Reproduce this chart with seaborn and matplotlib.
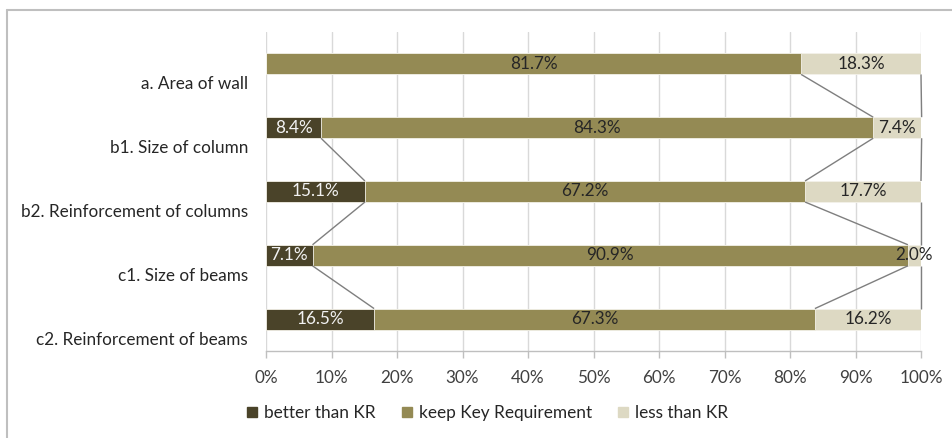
import numpy as np
import pandas as pd
import matplotlib
matplotlib.use("Agg")
import matplotlib.pyplot as plt
import matplotlib.transforms as mtransforms
from matplotlib.lines import Line2D
import seaborn as sns

# Survey results per structural item (percent of responses)
categories = [
    "a. Area of wall",
    "b1. Size of column",
    "b2. Reinforcement of columns",
    "c1. Size of beams",
    "c2. Reinforcement of beams",
]
better_than_kr = [0.0, 8.4, 15.1, 7.1, 16.5]
keep_kr = [81.7, 84.3, 67.2, 90.9, 67.3]
less_than_kr = [18.3, 7.4, 17.7, 2.0, 16.2]
series_names = ["better than KR", "keep Key Requirement", "less than KR"]
x_ticks = [0, 10, 20, 30, 40, 50, 60, 70, 80, 90, 100]

colors = ["#4a4329", "#948a54", "#ddd9c3"]
text_colors = ["#f2f2f2", "#262626", "#262626"]

sns.set_theme(style="white")
plt.rcParams["font.family"] = ["Lato", "DejaVu Sans"]

FS = 12.3
W, H, DPI = 952, 438, 100
fig = plt.figure(figsize=(W / DPI, H / DPI), dpi=DPI)
ax = fig.add_axes([266 / W, 1 - 351 / H, (921 - 266) / W, (351 - 32) / H])

b = np.array(better_than_kr)
k = np.array(keep_kr)
l = np.array(less_than_kr)
cum1 = b
cum2 = b + k
cum3 = b + k + l

df = pd.DataFrame({"item": categories, "c1": cum1, "c2": cum2, "c3": cum3})

bar_w = 0.33
# stacked bars drawn as overlapping cumulative totals
for col, c in zip(["c3", "c2", "c1"], colors[::-1]):
    sns.barplot(data=df, y="item", x=col, order=categories, orient="h",
                color=c, width=bar_w, ax=ax, saturation=1,
                edgecolor="#f4f2ea", linewidth=0.6, zorder=3)

# segment value labels
starts = [np.zeros_like(b), cum1, cum2]
vals = [b, k, l]
for s_idx in range(3):
    for i in range(len(categories)):
        v = vals[s_idx][i]
        if v <= 0:
            continue
        x = starts[s_idx][i] + v / 2
        ax.text(x, i, f"{v:.1f}%", ha="center", va="center",
                fontsize=FS, color=text_colors[s_idx], zorder=5)

# series lines joining segment ends of neighbouring bars
for cum in (cum1, cum2, cum3):
    for i in range(len(categories) - 1):
        if cum[i] <= 0 or cum[i + 1] <= 0:
            continue
        ax.plot([cum[i], cum[i + 1]], [i + bar_w / 2, i + 1 - bar_w / 2],
                color="#7f7f7f", lw=1.0, zorder=4, solid_capstyle="butt",
                clip_on=False)

ax.set_xlim(0, 100)
ax.set_ylim(len(categories) - 0.5, -0.5)
ax.set_xticks(x_ticks)
ax.set_xticklabels([f"{t}%" for t in x_ticks])
ax.set_xlabel("")
ax.set_ylabel("")

ax.grid(axis="x", color="#d9d9d9", lw=1.0, zorder=0)
ax.grid(axis="y", visible=False)
ax.set_axisbelow(True)
for side in ("top", "right", "left"):
    ax.spines[side].set_visible(False)
ax.spines["bottom"].set_color("#bfbfbf")
ax.spines["bottom"].set_linewidth(1.0)

ax.tick_params(axis="x", which="both", bottom=True, length=5, width=1,
               color="#bfbfbf", labelsize=FS, labelcolor="#404040", pad=9)
ax.tick_params(axis="y", left=False, labelsize=FS, labelcolor="#262626", pad=7)

# category labels sit below their bars
offset = mtransforms.ScaledTranslation(0, -19 / DPI, fig.dpi_scale_trans)
for lab in ax.get_yticklabels():
    lab.set_transform(lab.get_transform() + offset)

handles = [Line2D([], [], marker="s", linestyle="none", markersize=7,
                  markerfacecolor=c, markeredgecolor=c) for c in colors]
fig.legend(handles, series_names, loc="center", bbox_to_anchor=(487 / W, 1 - 413 / H),
           ncol=3, frameon=False, fontsize=12.4, handlelength=0.7,
           handletextpad=0.35, columnspacing=1.45, labelcolor="#262626")

# chart frame
fig.add_artist(Line2D([7 / W, 7 / W], [0, 1 - 10 / H], transform=fig.transFigure,
                      color="#bfbfbf", lw=1.5))
fig.add_artist(Line2D([7 / W, 1], [1 - 10 / H, 1 - 10 / H], transform=fig.transFigure,
                      color="#bfbfbf", lw=1.5))

fig.savefig("out.png", dpi=DPI)
